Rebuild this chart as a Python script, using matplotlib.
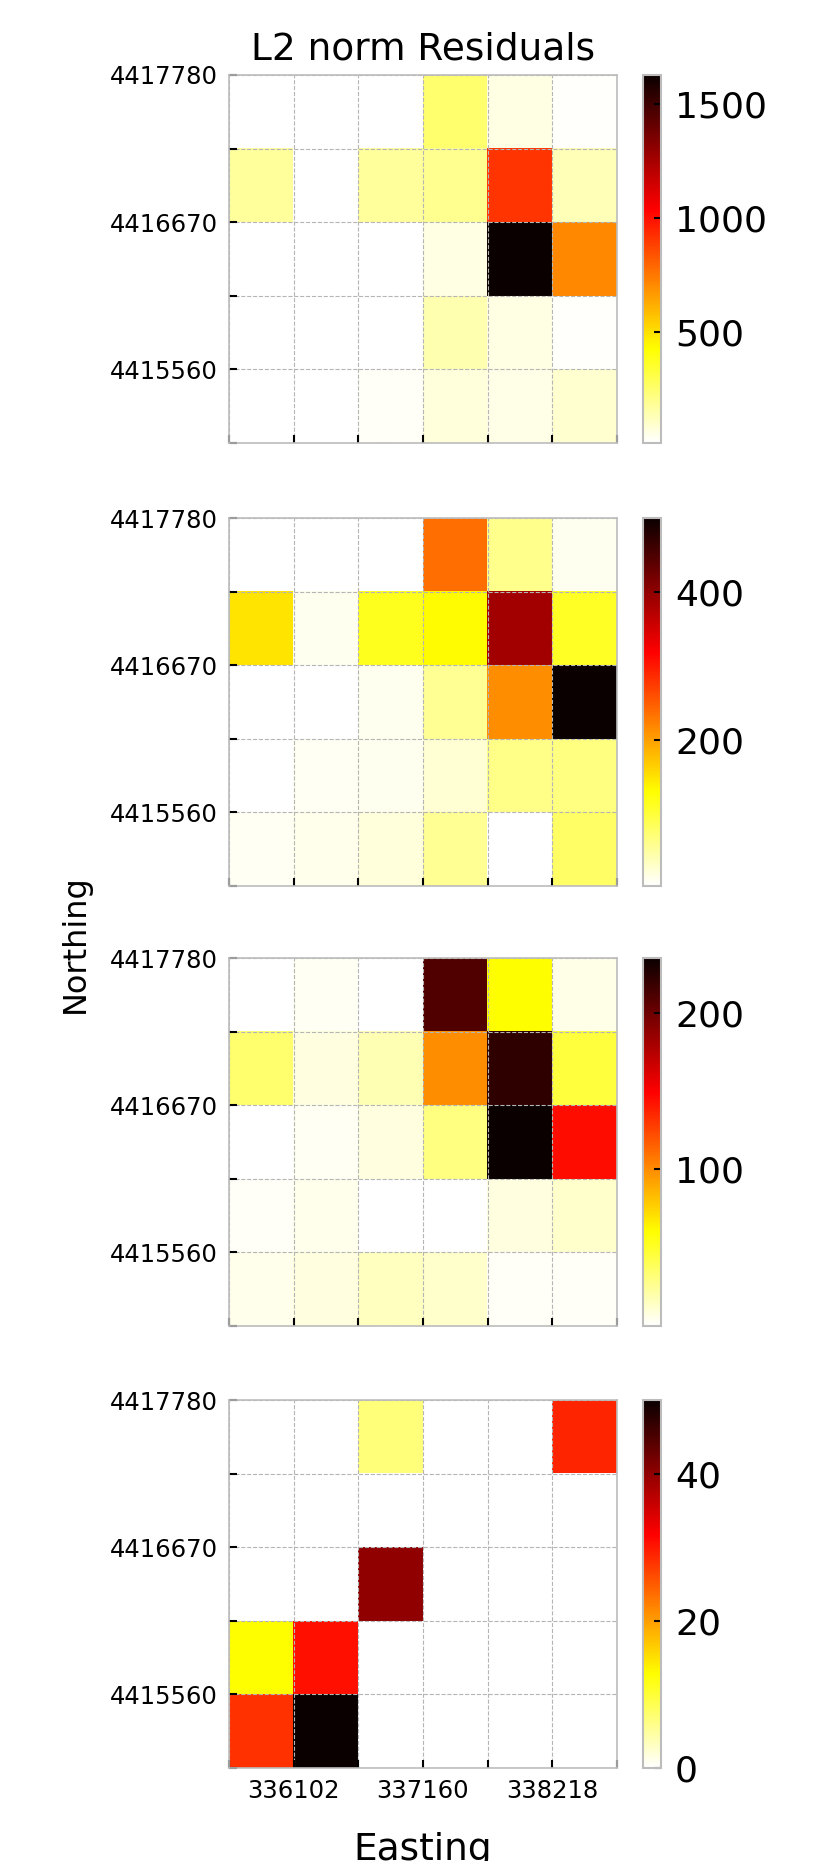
import numpy as np
import matplotlib
matplotlib.use('Agg')
import matplotlib.pyplot as plt

# grid edges (6 columns x 5 rows)
easting_ticks = [336102, 337160, 338218]
northing_ticks = [4415560, 4416670, 4417780]
cell_w = 529
cell_h = 555
n_cols = 6
n_rows = 5

# residuals per panel, row 0 = northernmost row
res_1 = [[12, 12, 14, 250, 60, 22],
         [175, 14, 170, 190, 913, 130],
         [12, 12, 18, 60, 1625, 710],
         [12, 16, 18, 140, 60, 22],
         [12, 18, 28, 70, 50, 90]]

res_2 = [[2, 3, 3, 237, 59, 10],
         [148, 10, 114, 132, 386, 109],
         [2, 3, 10, 55, 214, 500],
         [3, 8, 10, 25, 62, 65],
         [8, 12, 20, 55, 2, 78]]

res_3 = [[0, 3, 0, 210, 60, 6],
         [34, 8, 18, 100, 222, 45],
         [0, 3, 8, 30, 235, 145],
         [2, 5, 0, 0, 8, 12],
         [5, 8, 15, 12, 2, 2]]

res_4 = [[0, 0, 6.8, 0, 0, 29],
         [0, 0, 0, 0, 0, 0],
         [0, 0, 40, 0, 0, 0],
         [12.7, 30.5, 0, 0, 0, 0],
         [28, 50, 0, 0, 0, 0]]

cbar_ticks = [[500, 1000, 1500], [200, 400], [100, 200], [0, 20, 40]]


def main():
    W, H = 831, 1861
    fig = plt.figure(figsize=(W / 100, H / 100), dpi=100)
    plt.rcParams['font.family'] = ['DejaVu Sans']

    x0 = easting_ticks[0] - cell_w
    x1 = x0 + n_cols * cell_w
    y1 = northing_ticks[-1]
    y0 = y1 - n_rows * cell_h
    xb = [x0 + i * cell_w for i in range(n_cols + 1)]
    yb = [y0 + i * cell_h for i in range(n_rows + 1)]

    tops = [75, 518, 958, 1400]
    ph = 368
    left, right = 229, 617
    cb_l, cb_r = 643, 661

    panels = [res_1, res_2, res_3, res_4]
    for k, data in enumerate(panels):
        bottom = 1 - (tops[k] + ph) / H
        ax = fig.add_axes([left / W, bottom, (right - left) / W, ph / H])
        cax = fig.add_axes([cb_l / W, bottom, (cb_r - cb_l) / W, ph / H])

        im = ax.imshow(np.array(data, dtype=float), cmap='hot_r', origin='upper',
                       extent=[x0, x1, y0, y1], aspect='auto',
                       interpolation='nearest')

        ax.set_xticks(xb)
        ax.set_yticks(yb)
        if k == 3:
            ax.set_xticklabels([str(v) if v in easting_ticks else '' for v in xb],
                               fontsize=17.5)
        else:
            ax.set_xticklabels([])
        ax.set_yticklabels([str(v) if v in northing_ticks else '' for v in yb],
                           fontsize=17.5)
        ax.tick_params(direction='in', length=6, width=1.5, color='black', pad=8)
        ax.grid(True, linestyle='--', color='#b5b5b5', linewidth=0.8)
        for s in ax.spines.values():
            s.set_color('#bcbcbc')
            s.set_linewidth(1.2)

        cb = fig.colorbar(im, cax=cax)
        cb.set_ticks(cbar_ticks[k])
        cb.ax.tick_params(labelsize=26, direction='in', length=5, width=1.5,
                          color='black', pad=10)
        cb.outline.set_edgecolor('#bcbcbc')
        cb.outline.set_linewidth(1.5)

    fig.text(0.509, 1 - 50 / H, 'L2 norm Residuals', fontsize=27,
             ha='center', va='center')
    fig.text(75 / W, 1 - 944 / H, 'Northing', fontsize=23, rotation=90,
             ha='center', va='center')
    fig.text(0.509, 1 - 1832 / H, 'Easting', fontsize=27, ha='center', va='top')

    fig.savefig('out.png', dpi=100)


if __name__ == "__main__":
    main()
